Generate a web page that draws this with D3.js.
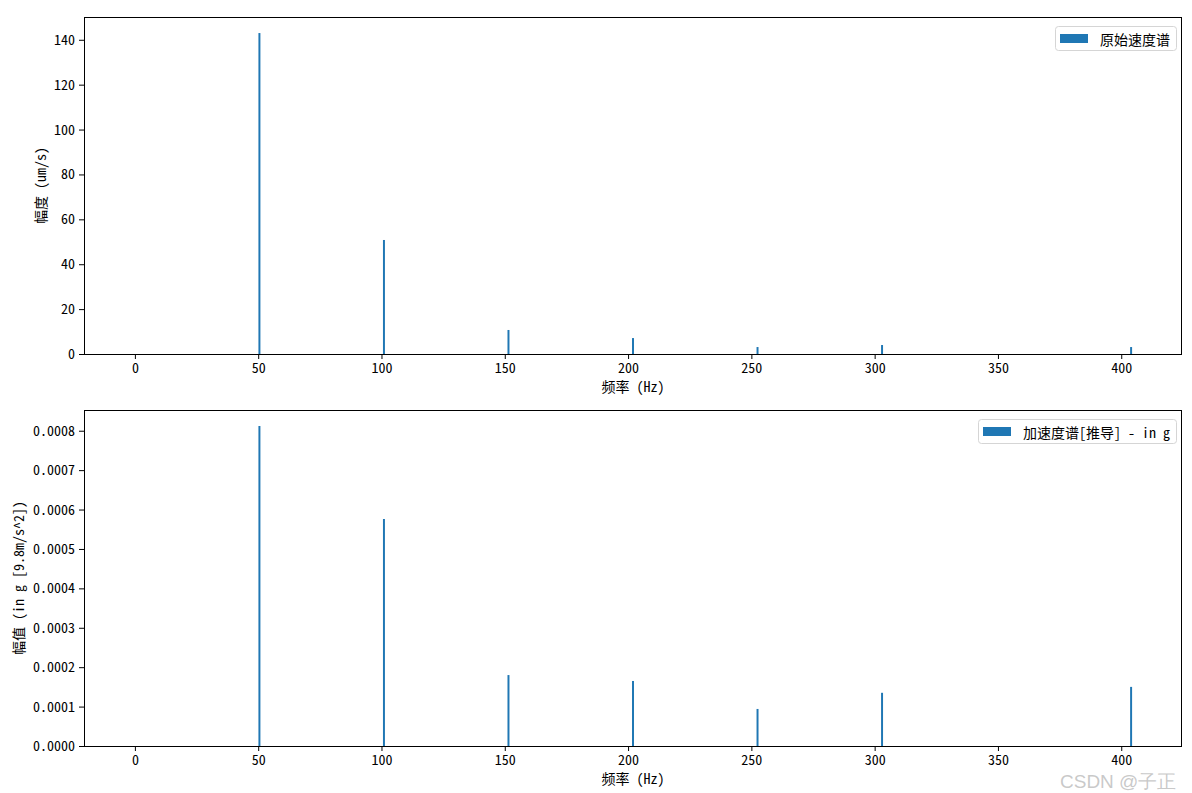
<!DOCTYPE html>
<html><head><meta charset="utf-8">
<script src="https://cdn.jsdelivr.net/npm/d3@7"></script>
<style>
body{margin:0;background:#fff;}
svg text{font-family:"Noto Sans Mono CJK SC","Noto Sans CJK SC","Noto Sans",sans-serif;}
</style></head>
<body><svg id="c" width="1192" height="793"></svg>
<script>
// ---- data ----
const freqs = [0, 50.5, 101, 151.5, 202, 252.5, 303, 353.5, 404];
const velocity = [0, 143, 50.8, 10.7, 7.1, 3.1, 4.0, 0, 3.1];
const accelG = [0, 0.000812, 0.000576, 0.00018, 0.000165, 0.000094, 0.000135, 0, 0.00015];
const xTicks = [0, 50, 100, 150, 200, 250, 300, 350, 400];
const yTicksTop = [0, 20, 40, 60, 80, 100, 120, 140];
const yTicksBottom = [0, 0.0001, 0.0002, 0.0003, 0.0004, 0.0005, 0.0006, 0.0007, 0.0008];
const xLabel = "频率 (Hz)";
const yLabelTop = "幅度 (um/s)";
const yLabelBottom = "幅值 (in g [9.8m/s^2])";
const legendTop = "原始速度谱";
const legendBottom = "加速度谱[推导] - in g";
const barWidth = 0.8;
const color = "#1f77b4";

const svg = d3.select("#c");
const L = 84, R = 1182;
const FS = 14;

function panel(top, bottom, values, yTicks, yFmt, yLab, yLabX, legText) {
  const xmin = d3.min(freqs) - barWidth/2, xmax = d3.max(freqs) + barWidth/2;
  const xp = (xmax - xmin) * 0.05;
  const x = d3.scaleLinear().domain([xmin - xp, xmax + xp]).range([L, R]);
  const y = d3.scaleLinear().domain([0, d3.max(values) * 1.05]).range([bottom, top]);
  const g = svg.append("g");
  g.selectAll("rect.bar").data(freqs).join("rect")
    .attr("x", (d) => x(d - barWidth/2))
    .attr("width", (d) => x(d + barWidth/2) - x(d - barWidth/2))
    .attr("y", (d, i) => y(values[i]))
    .attr("height", (d, i) => y(0) - y(values[i]))
    .attr("fill", color);
  const xa = g.append("g").attr("transform", `translate(0,${bottom})`)
    .call(d3.axisBottom(x).tickValues(xTicks).tickSize(5).tickPadding(4).tickFormat(d3.format("d")));
  const ya = g.append("g").attr("transform", `translate(${L},0)`)
    .call(d3.axisLeft(y).tickValues(yTicks).tickSize(5).tickPadding(4).tickFormat(yFmt));
  [xa, ya].forEach(a => {
    a.select(".domain").remove();
    a.selectAll("line").attr("stroke", "#000").attr("stroke-width", 1);
    a.selectAll("text").attr("font-size", FS).attr("fill", "#000");
  });
  g.append("rect").attr("x", L + 0.5).attr("y", top + 0.5).attr("width", R - L - 1).attr("height", bottom - top)
    .attr("fill", "none").attr("stroke", "#000").attr("stroke-width", 1);
  g.append("text").attr("x", (L + R) / 2).attr("y", bottom + 38).attr("text-anchor", "middle")
    .attr("font-size", FS).text(xLabel);
  g.append("text").attr("transform", `translate(${yLabX},${(top + bottom) / 2}) rotate(-90)`)
    .attr("text-anchor", "middle").attr("dominant-baseline", "central").attr("font-size", FS).text(yLab);
  // legend
  const lg = g.append("g");
  const box = lg.append("rect");
  const t = lg.append("text").attr("font-size", FS).attr("dominant-baseline", "central").text(legText);
  const tw = t.node().getComputedTextLength();
  const w = 5 + 28 + 12 + tw + 6, h = 24;
  const bx = R - 6 - w, by = top + 9;
  box.attr("x", bx + 0.5).attr("y", by + 0.5).attr("width", w).attr("height", h).attr("rx", 3)
    .attr("fill", "#fff").attr("fill-opacity", 0.8).attr("stroke", "#d5d5d5").attr("stroke-width", 1);
  lg.append("rect").attr("x", bx + 5).attr("y", by + h/2 - 4).attr("width", 28).attr("height", 9).attr("fill", color);
  t.attr("x", bx + 5 + 28 + 12).attr("y", by + h/2 + 1);
}

panel(17, 354, velocity, yTicksTop, d3.format("d"), yLabelTop, 40, legendTop);
panel(410, 746, accelG, yTicksBottom, d3.format(".4f"), yLabelBottom, 18, legendBottom);

svg.append("text").attr("x", 1060).attr("y", 788).attr("font-size", 19)
  .attr("fill", "#bbb").attr("fill-opacity", 0.8).style("font-family", "Liberation Sans, Arial, sans-serif")
  .text("CSDN @子正");
</script></body></html>
